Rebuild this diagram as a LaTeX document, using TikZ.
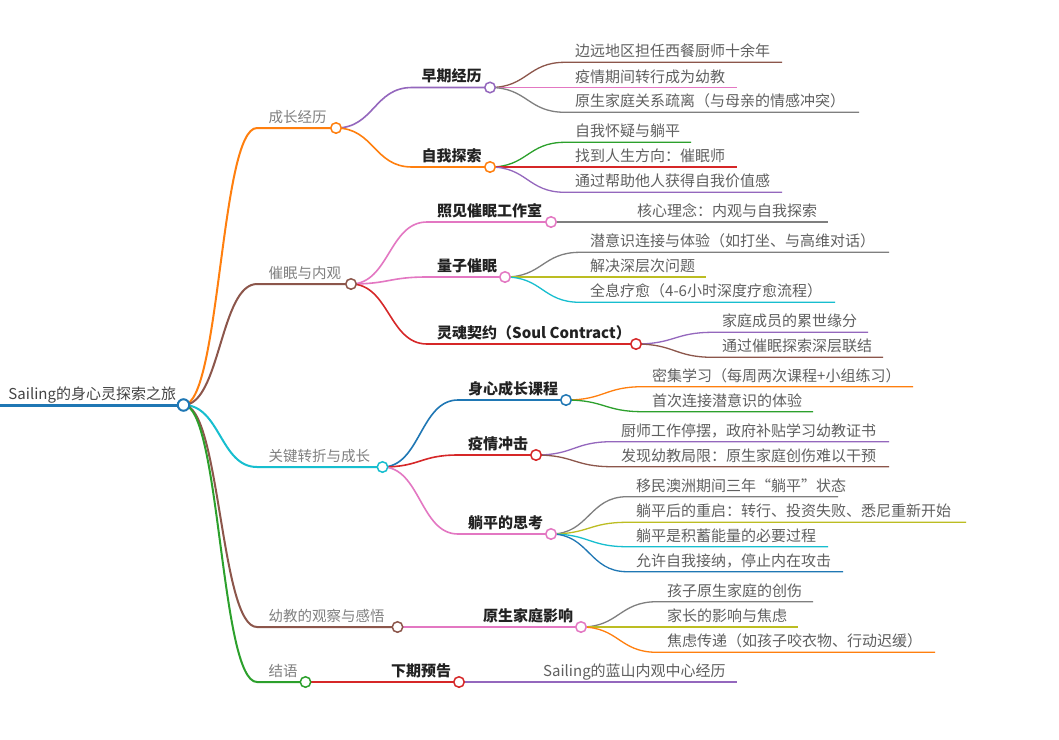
\documentclass[tikz,border=0pt]{standalone}
\usepackage{fontspec}
\setmainfont{Noto Sans CJK SC}
\usetikzlibrary{backgrounds,calc}
\definecolor{cBlue}{HTML}{1F77B4}
\definecolor{cOrange}{HTML}{FF7F0E}
\definecolor{cGreen}{HTML}{2CA02C}
\definecolor{cRed}{HTML}{D62728}
\definecolor{cPurple}{HTML}{9467BD}
\definecolor{cBrown}{HTML}{8C564B}
\definecolor{cPink}{HTML}{E377C2}
\definecolor{cGray}{HTML}{7F7F7F}
\definecolor{cOlive}{HTML}{BCBD22}
\definecolor{cCyan}{HTML}{17BECF}
\definecolor{tRoot}{HTML}{444444}
\definecolor{tOne}{HTML}{808080}
\definecolor{tTwo}{HTML}{222222}
\definecolor{tLeaf}{HTML}{606060}
\tikzset{
  dot/.style={circle,draw,fill=white,minimum size=10.5pt,inner sep=0pt,line width=1.5pt},
  rootdot/.style={dot,line width=2pt,minimum size=11.5pt},
  roottxt/.style={anchor=base west,inner sep=0pt,font=\fontsize{15}{15}\selectfont,text=tRoot},
  onetxt/.style={anchor=base west,inner sep=0pt,font=\fontsize{14.5}{15}\selectfont,text=tOne},
  twotxt/.style={anchor=base west,inner sep=0pt,font=\fontsize{15}{15}\selectfont\bfseries,text=tTwo},
  leaftxt/.style={anchor=base west,inner sep=0pt,font=\fontsize{15}{15}\selectfont,text=tLeaf},
  eone/.style={line width=2pt},
  etwo/.style={line width=1.6pt},
  ethree/.style={line width=1.3pt},
}
% curved connector: style, parent node, start coordinate, end (node or coordinate)
\newcommand\mmedge[4]{%
  \path (#2.center) -- (#3) coordinate[pos=0.5] (mmid);
  \draw[#1] (#2.center) .. controls (mmid |- #2.center) and (mmid |- #3) .. (#3) -- (#4);}
% leaf: name, colour, parent, start x, text x, y, end x, text
\newcommand\mmleaf[8]{%
  \coordinate (#1s) at (#4,#6);
  \coordinate (#1e) at (#7,#6);
  \node[leaftxt] (#1) at (#5,{#6-5.5}) {#8};
  \begin{scope}[on background layer]
    \mmedge{#2,ethree}{#3}{#1s}{#1e}
  \end{scope}}
\begin{document}
\begin{tikzpicture}[x=1pt,y=-1pt]
\useasboundingbox (0,0) rectangle (1059,739);
\begin{scope}[on background layer]
  \fill[white] (0,0) rectangle (1059,739);
\end{scope}

% root
\node[rootdot,draw=cBlue] (root) at (183.5,405) {};
\node[roottxt] (roottext) at (8.3,399.5) {Sailing的身心灵探索之旅};
\coordinate (rootstart) at (0,405);

% level 1
\node[dot,draw=cOrange] (n1) at (336,128) {};
\node[onetxt] (t1) at (268.5,122) {成长经历};
\coordinate (s1) at (257,128);
\node[dot,draw=cBrown] (n2) at (351,284) {};
\node[onetxt] (t2) at (268.5,278) {催眠与内观};
\coordinate (s2) at (257,284);
\node[dot,draw=cCyan] (n3) at (382.5,467) {};
\node[onetxt] (t3) at (268.5,461) {关键转折与成长};
\coordinate (s3) at (257,467);
\node[dot,draw=cBrown] (n4) at (397.5,627) {};
\node[onetxt] (t4) at (268.5,621) {幼教的观察与感悟};
\coordinate (s4) at (257,627);
\node[dot,draw=cGreen] (n5) at (305.5,682) {};
\node[onetxt] (t5) at (268.5,676) {结语};
\coordinate (s5) at (257,682);

% level 2
\node[dot,draw=cPurple] (a1) at (490,87.5) {};
\node[twotxt] (ta1) at (421.5,81.5) {早期经历};
\coordinate (sa1) at (412,87.5);
\node[dot,draw=cOrange] (a2) at (490,167) {};
\node[twotxt] (ta2) at (421.5,161) {自我探索};
\coordinate (sa2) at (412,167);
\node[dot,draw=cPink] (b1) at (551,222) {};
\node[twotxt] (tb1) at (437,216) {照见催眠工作室};
\coordinate (sb1) at (427,222);
\node[dot,draw=cPink] (b2) at (505,277) {};
\node[twotxt] (tb2) at (437,271) {量子催眠};
\coordinate (sb2) at (427,277);
\node[dot,draw=cRed] (b3) at (636,344) {};
\node[twotxt] (tb3) at (437,338) {灵魂契约（Soul Contract）};
\coordinate (sb3) at (427,344);
\node[dot,draw=cBlue] (c1) at (566,400) {};
\node[twotxt] (tc1) at (468,394) {身心成长课程};
\coordinate (sc1) at (458,400);
\node[dot,draw=cRed] (c2) at (536,455) {};
\node[twotxt] (tc2) at (468,449) {疫情冲击};
\coordinate (sc2) at (458,455);
\node[dot,draw=cPink] (c3) at (551,534) {};
\node[twotxt] (tc3) at (468,528) {躺平的思考};
\coordinate (sc3) at (458,534);
\node[dot,draw=cPink] (d1) at (581,627) {};
\node[twotxt] (td1) at (483,621) {原生家庭影响};
\node[dot,draw=cRed] (e1) at (459,682) {};
\node[twotxt] (te1) at (391,676) {下期预告};

\begin{scope}[on background layer]
  \draw[cBlue,line width=3pt] (rootstart) -- (root.center);
  \mmedge{cOrange,eone}{root}{s1}{n1.center}
  \mmedge{cBrown,eone}{root}{s2}{n2.center}
  \mmedge{cCyan,eone}{root}{s3}{n3.center}
  \mmedge{cBrown,eone}{root}{s4}{n4.center}
  \mmedge{cGreen,eone}{root}{s5}{n5.center}
  \mmedge{cPurple,etwo}{n1}{sa1}{a1.center}
  \mmedge{cOrange,etwo}{n1}{sa2}{a2.center}
  \mmedge{cPink,etwo}{n2}{sb1}{b1.center}
  \mmedge{cPink,etwo}{n2}{sb2}{b2.center}
  \mmedge{cRed,etwo}{n2}{sb3}{b3.center}
  \mmedge{cBlue,etwo}{n3}{sc1}{c1.center}
  \mmedge{cRed,etwo}{n3}{sc2}{c2.center}
  \mmedge{cPink,etwo}{n3}{sc3}{c3.center}
  \draw[cPink,etwo] (n4.center) -- (d1.center);
  \draw[cRed,etwo] (n5.center) -- (e1.center);
\end{scope}

% leaves
\mmleaf{la1}{cBrown}{a1}{565}{575}{62.3}{782}{边远地区担任西餐厨师十余年}
\mmleaf{la2}{cPink}{a1}{565}{575}{87.5}{737}{疫情期间转行成为幼教}
\mmleaf{la3}{cGray}{a1}{565}{575}{112.3}{859}{原生家庭关系疏离（与母亲的情感冲突）}
\mmleaf{lb1}{cGreen}{a2}{565}{575}{142.3}{691}{自我怀疑与躺平}
\mmleaf{lb2}{cRed}{a2}{565}{575}{167}{737}{找到人生方向：催眠师}
\mmleaf{lb3}{cPurple}{a2}{565}{575}{192.3}{782}{通过帮助他人获得自我价值感}
\mmleaf{lc1}{cGray}{b1}{551}{637}{222}{828}{核心理念：内观与自我探索}
\mmleaf{ld1}{cGray}{b2}{580}{590}{252.3}{889}{潜意识连接与体验（如打坐、与高维对话）}
\mmleaf{ld2}{cOlive}{b2}{580}{590}{277}{706}{解决深层次问题}
\mmleaf{ld3}{cCyan}{b2}{580}{590}{302.3}{835}{全息疗愈（4-6小时深度疗愈流程）}
\mmleaf{le1}{cPurple}{b3}{713}{722}{332.3}{868}{家庭成员的累世缘分}
\mmleaf{le2}{cBrown}{b3}{713}{722}{357.3}{883}{通过催眠探索深层联结}
\mmleaf{lf1}{cOrange}{c1}{643}{652}{386.7}{913}{密集学习（每周两次课程+小组练习）}
\mmleaf{lf2}{cGreen}{c1}{643}{652}{411.7}{813}{首次连接潜意识的体验}
\mmleaf{lg1}{cPurple}{c2}{612}{621}{441.7}{889}{厨师工作停摆，政府补贴学习幼教证书}
\mmleaf{lg2}{cBrown}{c2}{612}{621}{466.7}{889}{发现幼教局限：原生家庭创伤难以干预}
\mmleaf{lh1}{cGray}{c3}{627}{636}{496.7}{838}{移民澳洲期间三年“躺平”状态}
\mmleaf{lh2}{cOlive}{c3}{627}{636}{522.3}{966}{躺平后的重启：转行、投资失败、悉尼重新开始}
\mmleaf{lh3}{cCyan}{c3}{627}{636}{546.7}{828}{躺平是积蓄能量的必要过程}
\mmleaf{lh4}{cBlue}{c3}{627}{636}{571.7}{843}{允许自我接纳，停止内在攻击}
\mmleaf{li1}{cGray}{d1}{657}{667}{601.7}{813}{孩子原生家庭的创伤}
\mmleaf{li2}{cOlive}{d1}{657}{667}{627}{798}{家长的影响与焦虑}
\mmleaf{li3}{cOrange}{d1}{657}{667}{652.3}{935}{焦虑传递（如孩子咬衣物、行动迟缓）}
\mmleaf{lj1}{cPurple}{e1}{459}{543}{682}{737}{Sailing的蓝山内观中心经历}
\end{tikzpicture}
\end{document}
